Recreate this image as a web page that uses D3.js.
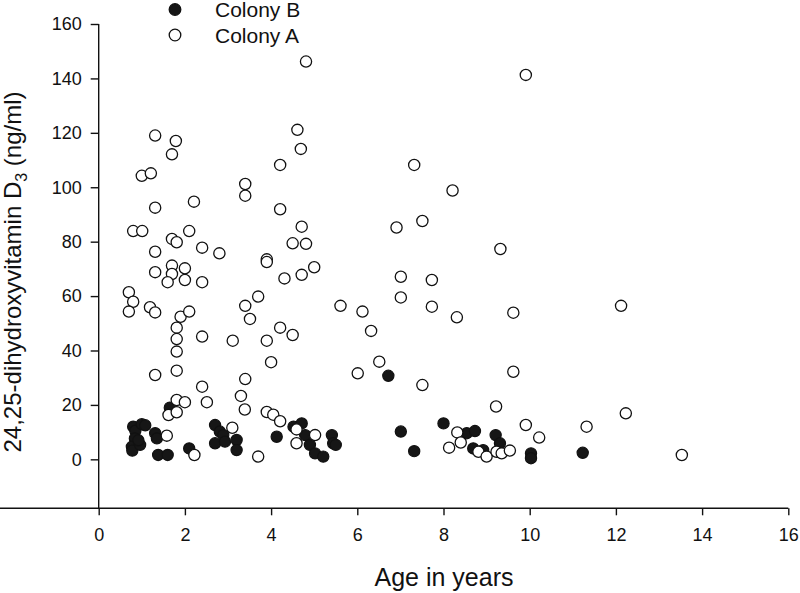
<!DOCTYPE html>
<html><head><meta charset="utf-8">
<script src="https://cdn.jsdelivr.net/npm/d3@7"></script>
<style>body{margin:0;background:#fff}svg{display:block;font-family:"Liberation Sans",Arial,sans-serif}</style>
</head><body>
<svg id="chart" width="800" height="593"></svg>
<script>
const seriesNames = ["Colony B", "Colony A"];
const xTicks = [0, 2, 4, 6, 8, 10, 12, 14, 16];
const yTicks = [0, 20, 40, 60, 80, 100, 120, 140, 160];
const xLabel = "Age in years";

// Colony B (filled)
const colonyBAge = [0.80,0.85,1.00,1.08,0.84,0.77,0.78,0.96,0.92,1.31,1.35,1.38,1.60,1.65,2.10,2.70,2.81,2.89,2.70,2.93,3.20,3.20,4.13,4.52,4.71,4.79,4.90,5.02,5.21,5.41,5.44,5.50,6.72,7.01,7.32,8.00,8.54,8.73,8.69,8.92,9.21,9.31,10.03,10.03,11.23];
const colonyBVal = [12.0,10.5,12.9,12.5,7.7,4.6,3.2,5.3,7.0,9.6,7.7,1.6,1.6,19.0,4.0,12.6,10.2,8.9,5.9,6.5,7.1,3.4,8.3,12.0,13.2,8.9,5.3,2.2,1.0,8.9,5.9,5.3,30.7,10.2,3.0,13.2,9.6,10.4,4.0,3.4,8.9,5.9,2.2,0.4,2.4];

// Colony A (open)
const colonyAAge = [1.31,1.79,1.70,1.00,1.21,1.31,2.21,0.80,1.01,1.70,1.81,2.10,1.31,2.40,2.80,1.31,1.70,1.70,1.60,2.00,2.00,2.40,0.70,0.80,0.70,1.19,1.31,1.90,2.10,1.81,1.81,1.81,2.40,1.81,1.31,2.40,
  4.61,4.69,4.21,3.40,3.40,4.21,4.71,4.50,4.81,3.90,3.90,5.00,4.71,4.31,3.70,3.40,3.51,3.11,3.90,4.21,4.50,4.00,3.40,
  4.81,9.91,7.32,8.21,7.51,6.91,9.32,7.01,7.73,7.01,7.73,5.61,6.12,6.32,8.31,9.62,6.51,6.01,9.62,7.51,12.12,
  1.81,2.00,1.62,1.81,2.51,3.30,3.39,1.58,2.22,3.10,3.70,3.90,4.05,4.21,4.59,4.59,5.02,
  9.22,8.32,8.40,8.13,8.81,9.00,9.23,9.35,9.54,9.91,10.22,11.32,12.23,13.53];
const colonyAVal = [119.0,117.0,112.1,104.2,105.1,92.5,94.7,83.9,83.9,81.0,79.8,83.9,76.3,77.8,75.7,68.8,71.2,68.1,65.1,70.2,65.9,65.1,61.4,57.9,54.3,55.9,54.0,52.4,54.3,48.4,44.2,39.6,45.1,32.6,31.0,26.7,
  121.1,114.1,108.2,101.2,96.9,91.9,85.5,79.4,79.2,73.5,72.5,70.6,67.8,66.5,59.8,56.4,51.6,43.6,43.6,48.4,45.7,35.7,29.5,
  146.2,141.3,108.2,98.8,87.6,85.2,77.3,67.1,65.9,59.5,56.1,56.4,54.3,47.2,52.2,53.9,35.9,31.6,32.2,27.3,56.4,
  21.8,21.0,16.3,17.3,21.0,23.3,18.3,8.7,1.6,11.6,1.0,17.4,16.4,14.0,11.0,5.9,8.9,
  19.4,9.9,6.2,4.3,2.8,1.0,2.8,2.2,3.2,12.6,8.0,12.0,16.9,1.6];

const svg = d3.select("#chart");
const x = d3.scaleLinear().domain([0, 16]).range([98.7, 788.3]);
const y = d3.scaleLinear().domain([-18, 160]).range([508.3, 24]);
const ink = "#111";

// axes
const xAxis = svg.append("g").attr("transform", `translate(0,${y(-18)})`)
  .call(d3.axisBottom(x).tickValues(xTicks).tickFormat(d3.format("d")).tickSizeOuter(0).tickSize(7).tickPadding(13));
const yAxis = svg.append("g").attr("transform", `translate(${x(0)},0)`)
  .call(d3.axisLeft(y).tickValues(yTicks).tickFormat(d3.format("d")).tickSizeOuter(0).tickSize(8).tickPadding(9));
[xAxis, yAxis].forEach(g => {
  g.select(".domain").attr("stroke", ink).attr("stroke-width", 1.4);
  g.selectAll(".tick line").attr("stroke", ink).attr("stroke-width", 1.4);
  g.selectAll(".tick text").attr("fill", ink).style("font-size", "18px").style("font-family", '"Liberation Sans",Arial,sans-serif');
});
// make y domain span from -18 to 160 exactly
yAxis.select(".domain").attr("d", `M0,${y(-18)}V${y(160)}`);
xAxis.select(".domain").attr("d", `M0,0H${x(16)}`);

// points
const bData = colonyBAge.map((a, i) => ({a, v: colonyBVal[i]}));
const aData = colonyAAge.map((a, i) => ({a, v: colonyAVal[i]}));
const r = 5.6;
svg.append("g").selectAll("circle").data(bData).join("circle")
  .attr("cx", d => x(d.a)).attr("cy", d => y(d.v)).attr("r", r)
  .attr("fill", "#161616").attr("stroke", ink).attr("stroke-width", 1.2);
svg.append("g").selectAll("circle").data(aData).join("circle")
  .attr("cx", d => x(d.a)).attr("cy", d => y(d.v)).attr("r", r)
  .attr("fill", "#fff").attr("stroke", ink).attr("stroke-width", 1.3);

// legend
const leg = svg.append("g");
const legY = [9.5, 35];
seriesNames.forEach((n, i) => {
  leg.append("circle").attr("cx", 175).attr("cy", legY[i]).attr("r", 5.8)
    .attr("fill", i === 0 ? "#161616" : "#fff").attr("stroke", ink).attr("stroke-width", 1.3);
  leg.append("text").attr("x", 215).attr("y", legY[i] + 7.5).attr("fill", ink)
    .style("font-size", "21px").text(n);
});

// axis titles
svg.append("text").attr("x", 444).attr("y", 586).attr("text-anchor", "middle")
  .attr("fill", ink).style("font-size", "25px").text(xLabel);
const yl = svg.append("text").attr("transform", "translate(21,272) rotate(-90)")
  .attr("text-anchor", "middle").attr("fill", ink).style("font-size", "24px");
yl.append("tspan").text("24,25-dihydroxyvitamin D");
yl.append("tspan").attr("dy", 6).style("font-size", "16px").text("3");
yl.append("tspan").attr("dy", -6).text(" (ng/ml)");
</script>
</body></html>
